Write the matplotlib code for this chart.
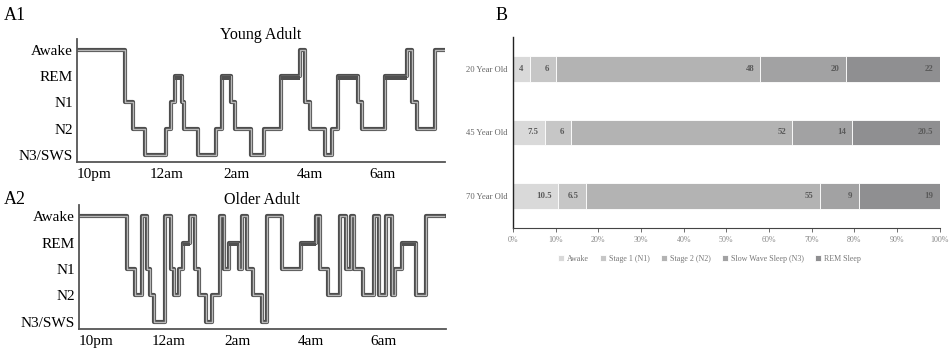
import matplotlib
matplotlib.use("Agg")
import matplotlib.pyplot as plt
import matplotlib.patheffects as pe
import numpy as np

plt.rcParams['font.family'] = ['Liberation Serif', 'DejaVu Serif']

# hypnogram data: hours after 10pm where each stage starts (last entry = end of night)
stage_names = ['N3/SWS', 'N2', 'N1', 'REM', 'Awake']
young_times = [0.00, 1.32, 1.53, 1.87, 2.44, 2.57, 2.69, 2.87, 2.93, 3.30, 3.81, 3.96, 4.20, 4.32,
               4.76, 5.11, 5.59, 6.11, 6.24, 6.36, 6.78, 6.97, 7.13, 7.67, 7.78, 8.42, 9.03, 9.17,
               9.30, 9.79, 10.05]
young_stages = ['Awake', 'N1', 'N2', 'N3/SWS', 'N2', 'N1', 'REM', 'N1', 'N2', 'N3/SWS', 'N2', 'REM',
                'N1', 'N2', 'N3/SWS', 'N2', 'REM', 'Awake', 'N1', 'N2', 'N3/SWS', 'N2', 'REM', 'N1',
                'N2', 'REM', 'Awake', 'N1', 'N2', 'Awake', 'Awake']
older_times = [0.00, 1.33, 1.53, 1.73, 1.87, 1.94, 2.06, 2.35, 2.53, 2.60, 2.74, 2.85, 3.05, 3.18,
               3.30, 3.48, 3.64, 3.86, 3.99, 4.12, 4.40, 4.48, 4.62, 4.76, 5.03, 5.15, 5.57, 6.08,
               6.49, 6.62, 6.83, 7.17, 7.33, 7.46, 7.55, 7.78, 8.10, 8.23, 8.43, 8.58, 8.67, 8.85,
               9.25, 9.52, 10.00]
older_stages = ['Awake', 'N1', 'N2', 'Awake', 'N1', 'N2', 'N3/SWS', 'Awake', 'N1', 'N2', 'N1', 'REM',
                'Awake', 'N1', 'N2', 'N3/SWS', 'N2', 'Awake', 'N1', 'REM', 'N1', 'Awake', 'N1', 'N2',
                'N3/SWS', 'Awake', 'N1', 'REM', 'Awake', 'N1', 'N2', 'Awake', 'N1', 'Awake', 'N1',
                'N2', 'Awake', 'N2', 'Awake', 'N2', 'N1', 'REM', 'N2', 'Awake', 'Awake']
hour_ticks = [0, 2, 4, 6, 8]
hour_labels = ['10pm', '12am', '2am', '4am', '6am']

# stacked bar data (percent of night)
age_groups = ['20 Year Old', '45 Year Old', '70 Year Old']
stage_labels = ['Awake', 'Stage 1 (N1)', 'Stage 2 (N2)', 'Slow Wave Sleep (N3)', 'REM Sleep']
awake = [4, 7.5, 10.5]
stage1 = [6, 6, 6.5]
stage2 = [48, 52, 55]
sws = [20, 14, 9]
rem = [22, 20.5, 19]
bar_colors = ['#d9d9d9', '#c6c6c6', '#b3b3b3', '#a2a2a3', '#8f8f91']

fig = plt.figure(figsize=(9.5, 3.5), dpi=100)


def hypnogram(rect, times, stages, title, title_y):
    ax = fig.add_axes(rect)
    lv = [stage_names.index(s) for s in stages]
    for i in range(len(times) - 1):
        if stages[i] == 'REM':
            ax.fill_between([times[i], times[i + 1]], 2.86, 3.0, color='#505050', lw=0, zorder=3)
    ax.step(times, lv, where='post', color='#b8b8b8', lw=1.0, zorder=2,
            path_effects=[pe.Stroke(linewidth=3.0, foreground='#4d4d4d'), pe.Normal()])
    ax.set_xlim(0, 10.05)
    ax.set_ylim(-0.27, 4.42)
    ax.set_yticks(range(5))
    ax.set_yticklabels(stage_names, fontsize=11)
    ax.set_xticks(hour_ticks)
    ax.set_xticklabels(hour_labels, fontsize=11, ha='left')
    ax.tick_params(axis='y', length=0, pad=3)
    ax.tick_params(axis='x', length=0, pad=4)
    for sp in ['top', 'right']:
        ax.spines[sp].set_visible(False)
    for sp in ['left', 'bottom']:
        ax.spines[sp].set_color('#555555')
        ax.spines[sp].set_linewidth(1.3)
    ax.text(0.5, title_y, title, transform=ax.transAxes, ha='center', va='center', fontsize=11.5)
    return ax


hypnogram([0.081, 0.537, 0.387, 0.352], young_times, young_stages, 'Young Adult', 1.035)
hypnogram([0.083, 0.060, 0.386, 0.354], older_times, older_stages, 'Older Adult', 1.04)

fig.text(0.004, 0.955, 'A1', fontsize=13, va='center')
fig.text(0.004, 0.43, 'A2', fontsize=13, va='center')
fig.text(0.522, 0.955, 'B', fontsize=13, va='center')

# panel B
axb = fig.add_axes([0.540, 0.349, 0.449, 0.545])
y = np.arange(len(age_groups))
left = np.zeros(len(age_groups))
for vals, name, col in zip([awake, stage1, stage2, sws, rem], stage_labels, bar_colors):
    vals = np.array(vals, dtype=float)
    axb.barh(y, vals, left=left, height=0.4, color=col, edgecolor='white', linewidth=0.6, label=name)
    for yi, v, l in zip(y, vals, left):
        axb.text(l + v - 1.5, yi, f'{v:g}', ha='right', va='center', fontsize=6.3,
                 color='#5a5a5a', fontweight='bold')
    left += vals
axb.set_xlim(0, 100)
axb.set_ylim(2.5, -0.5)
axb.set_yticks(y)
axb.set_yticklabels(age_groups, fontsize=6.2, color='#666666')
axb.tick_params(axis='y', length=0, pad=4)
axb.set_xticks(np.arange(0, 101, 10))
axb.set_xticklabels([f'{v}%' for v in range(0, 101, 10)], fontsize=5.8, color='#888888')
axb.tick_params(axis='x', length=3, width=0.6, color='#555555', pad=3)
for sp in ['top', 'right']:
    axb.spines[sp].set_visible(False)
axb.spines['left'].set_color('#222222')
axb.spines['left'].set_linewidth(1.0)
axb.spines['bottom'].set_color('#444444')
axb.spines['bottom'].set_linewidth(0.8)
axb.legend(loc='upper center', bbox_to_anchor=(0.46, -0.105), ncol=5, frameon=False, fontsize=5.8,
           handlelength=0.8, handleheight=0.8, handletextpad=0.3, columnspacing=1.4,
           labelcolor='#777777')

fig.savefig('out.png', dpi=100)
